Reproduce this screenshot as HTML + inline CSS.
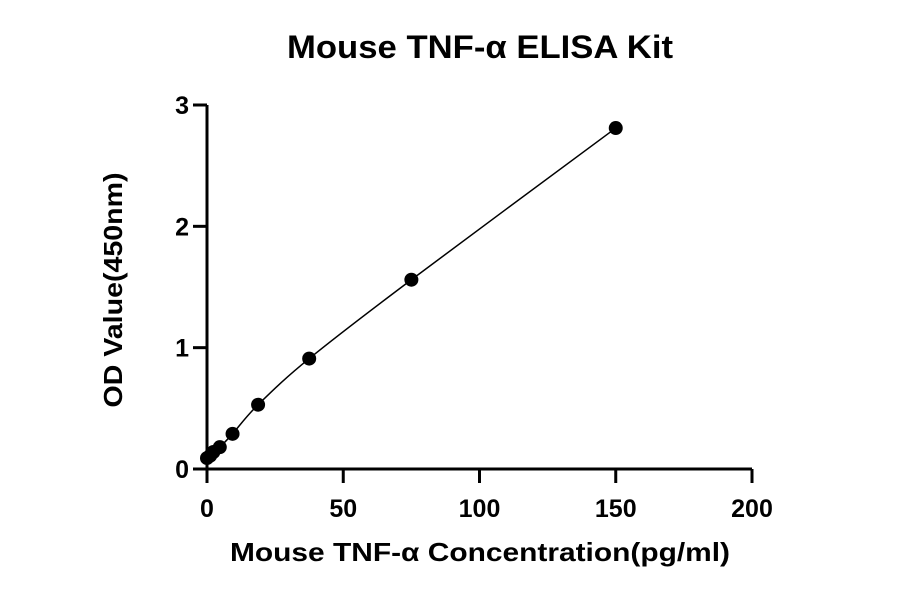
<!DOCTYPE html>
<html><head><meta charset="utf-8"><style>
body{margin:0;background:#fff}
svg text{font-family:"Liberation Sans",Arial,sans-serif;font-weight:bold;fill:#000}
</style></head><body>
<svg width="900" height="594">
<text x="480" y="58" font-size="32" text-anchor="middle" textLength="386" lengthAdjust="spacingAndGlyphs">Mouse TNF-α ELISA Kit</text>
<g id="axes"></g>
<g id="plot"></g>
<text x="480" y="561" font-size="26" text-anchor="middle" textLength="500" lengthAdjust="spacingAndGlyphs">Mouse TNF-α Concentration(pg/ml)</text>
<text transform="translate(122,290) rotate(-90)" font-size="26" text-anchor="middle" textLength="235" lengthAdjust="spacingAndGlyphs">OD Value(450nm)</text>
</svg>
<script>
const concentrations=[0,1.17,2.34,4.69,9.375,18.75,37.5,75,150];
const odValues=[0.09,0.11,0.14,0.18,0.29,0.53,0.91,1.56,2.81];
const xTicks=[0,50,100,150,200];
const yTicks=[0,1,2,3];
const X0=207,X1=752,Y0=469,Y1=105;
const sx=v=>X0+(v/200)*(X1-X0);
const sy=v=>Y0-(v/3)*(Y0-Y1);
const NS="http://www.w3.org/2000/svg";
function mk(tag,attrs,parent){const e=document.createElementNS(NS,tag);for(const k in attrs)e.setAttribute(k,attrs[k]);parent.appendChild(e);return e;}
const axes=document.getElementById('axes'),plot=document.getElementById('plot');
let l=mk('line',{x1:X0,y1:Y0,x2:X1,y2:Y0,stroke:'#000','stroke-width':3},axes);


l=mk('line',{x1:X0,y1:Y0,x2:X0,y2:Y1,stroke:'#000','stroke-width':3},axes);


xTicks.forEach(t=>{
 const x=sx(t);
 const tk=mk('line',{x1:x,y1:Y0,x2:x,y2:Y0+14,stroke:'#000','stroke-width':3},axes);
 
 
 const tx=mk('text',{x:x,y:Y0+48,'font-size':25,'text-anchor':'middle'},axes);tx.textContent=t;
 
 
});
yTicks.forEach(t=>{
 const y=sy(t);
 const tk=mk('line',{x1:X0-14,y1:y,x2:X0,y2:y,stroke:'#000','stroke-width':3},axes);
 
 
 const tx=mk('text',{x:X0-18,y:y+9,'font-size':25,'text-anchor':'end'},axes);tx.textContent=t;
 
 
});
const P=concentrations.map((c,i)=>[sx(c),sy(odValues[i])]);
let d=`M${P[0][0]},${P[0][1]}`;
for(let i=0;i<P.length-1;i++){
 const p0=P[Math.max(0,i-1)],p1=P[i],p2=P[i+1],p3=P[Math.min(P.length-1,i+2)];
 d+=` C${p1[0]+(p2[0]-p0[0])/6},${p1[1]+(p2[1]-p0[1])/6} ${p2[0]-(p3[0]-p1[0])/6},${p2[1]-(p3[1]-p1[1])/6} ${p2[0]},${p2[1]}`;
}
const curve=mk('path',{d:d,fill:'none',stroke:'#000','stroke-width':1.5},plot);


P.forEach(p=>{
 const c=mk('circle',{cx:p[0],cy:p[1],r:7,fill:'#000'},plot);
 
 
});
</script>
</body></html>
